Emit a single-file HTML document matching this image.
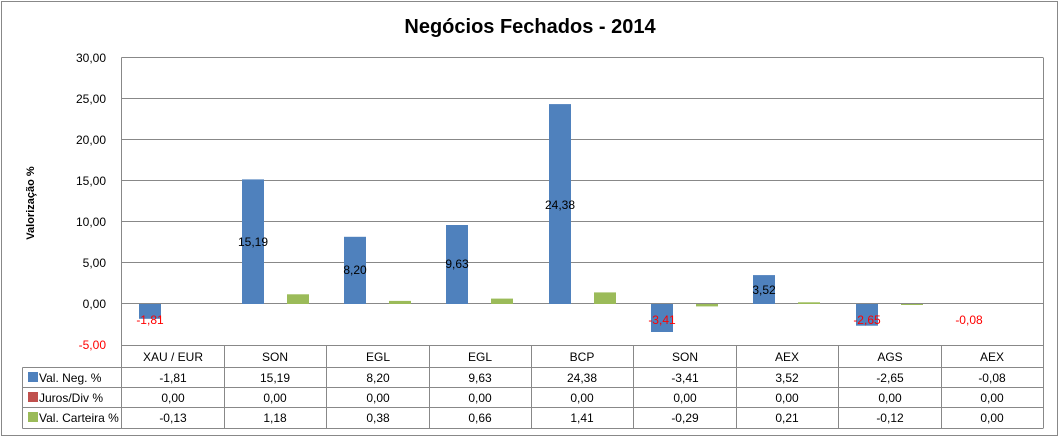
<!DOCTYPE html>
<html><head><meta charset="utf-8"><style>
html,body{margin:0;padding:0;background:#fff}
svg{display:block;font-family:"Liberation Sans",sans-serif}
</style></head><body>
<svg width="1060" height="438" viewBox="0 0 1060 438">
<rect x="1.5" y="1.5" width="1056" height="434" fill="#fff" stroke="#888"/>
<text x="530" y="33" font-size="20" font-weight="bold" text-anchor="middle" fill="#000">Negócios Fechados - 2014</text>
<text transform="translate(34,203) rotate(-90)" font-size="11" font-weight="bold" text-anchor="middle">Valorização %</text>
<g stroke="#888" stroke-width="1" fill="none">
<line x1="121.5" y1="57.5" x2="1043" y2="57.5"/>
<line x1="121.5" y1="98.5" x2="1043" y2="98.5"/>
<line x1="121.5" y1="139.5" x2="1043" y2="139.5"/>
<line x1="121.5" y1="180.5" x2="1043" y2="180.5"/>
<line x1="121.5" y1="221.5" x2="1043" y2="221.5"/>
<line x1="121.5" y1="262.5" x2="1043" y2="262.5"/>
<line x1="121.5" y1="303.5" x2="1043" y2="303.5"/>
<line x1="121.5" y1="57.5" x2="121.5" y2="428"/>
<line x1="1043.5" y1="57.5" x2="1043.5" y2="428"/>
</g>
<g font-size="12" text-anchor="end" fill="#000">
<text x="106" y="62">30,00</text><text x="106" y="103">25,00</text><text x="106" y="144">20,00</text>
<text x="106" y="185">15,00</text><text x="106" y="226">10,00</text><text x="106" y="267">5,00</text>
<text x="106" y="308">0,00</text><text x="106" y="349" fill="#f00">-5,00</text>
</g>
<!-- bars -->
<g>
<rect x="139" y="304" width="22" height="14.8" fill="#4f81bd"/>
<rect x="242" y="179.4" width="22" height="124.6" fill="#4f81bd"/>
<rect x="287" y="294.3" width="22" height="9.7" fill="#9bbb59"/>
<rect x="344" y="236.8" width="22" height="67.2" fill="#4f81bd"/>
<rect x="389" y="300.9" width="22" height="3.1" fill="#9bbb59"/>
<rect x="446" y="225" width="22" height="79" fill="#4f81bd"/>
<rect x="491" y="298.6" width="22" height="5.4" fill="#9bbb59"/>
<rect x="549" y="104.1" width="22" height="199.9" fill="#4f81bd"/>
<rect x="594" y="292.4" width="22" height="11.6" fill="#9bbb59"/>
<rect x="651" y="304" width="22" height="28" fill="#4f81bd"/>
<rect x="696" y="304" width="22" height="2.4" fill="#9bbb59"/>
<rect x="753" y="275.1" width="22" height="28.9" fill="#4f81bd"/>
<rect x="798" y="302.3" width="22" height="1.7" fill="#9bbb59"/>
<rect x="856" y="304" width="22" height="21.7" fill="#4f81bd"/>
<rect x="901" y="304" width="22" height="1" fill="#9bbb59"/>
</g>
<g font-size="12" text-anchor="middle">
<text x="150" y="324" fill="#f00">-1,81</text>
<text x="253" y="246">15,19</text>
<text x="355" y="274">8,20</text>
<text x="457" y="268">9,63</text>
<text x="560" y="209">24,38</text>
<text x="662" y="324" fill="#f00">-3,41</text>
<text x="764" y="294">3,52</text>
<text x="867" y="324" fill="#f00">-2,65</text>
<text x="969" y="324" fill="#f00">-0,08</text>
</g>
<!-- table -->
<g stroke="#888" fill="none">
<line x1="121.5" y1="345.5" x2="1043.5" y2="345.5"/>
<line x1="22.5" y1="367.5" x2="1043.5" y2="367.5"/>
<line x1="22.5" y1="387.5" x2="1043.5" y2="387.5"/>
<line x1="22.5" y1="407.5" x2="1043.5" y2="407.5"/>
<line x1="22.5" y1="428.5" x2="1043.5" y2="428.5"/>
<line x1="22.5" y1="367.5" x2="22.5" y2="428.5"/>
<line x1="224.5" y1="345.5" x2="224.5" y2="428.5"/>
<line x1="326.5" y1="345.5" x2="326.5" y2="428.5"/>
<line x1="429.5" y1="345.5" x2="429.5" y2="428.5"/>
<line x1="531.5" y1="345.5" x2="531.5" y2="428.5"/>
<line x1="633.5" y1="345.5" x2="633.5" y2="428.5"/>
<line x1="736.5" y1="345.5" x2="736.5" y2="428.5"/>
<line x1="838.5" y1="345.5" x2="838.5" y2="428.5"/>
<line x1="941.5" y1="345.5" x2="941.5" y2="428.5"/>
</g>
<rect x="28" y="372" width="10" height="10" fill="#4f81bd"/>
<rect x="28" y="392" width="10" height="10" fill="#c0504d"/>
<rect x="28" y="412" width="10" height="10" fill="#9bbb59"/>
<g font-size="12">
<text x="39" y="382">Val. Neg. %</text>
<text x="39" y="402">Juros/Div %</text>
<text x="39" y="422">Val. Carteira %</text>
</g>
<g font-size="12" text-anchor="middle">
<text x="173" y="361">XAU / EUR</text><text x="275" y="361">SON</text><text x="378" y="361">EGL</text>
<text x="480" y="361">EGL</text><text x="582" y="361">BCP</text><text x="685" y="361">SON</text>
<text x="787" y="361">AEX</text><text x="890" y="361">AGS</text><text x="992" y="361">AEX</text>
<text x="173" y="382">-1,81</text><text x="275" y="382">15,19</text><text x="378" y="382">8,20</text>
<text x="480" y="382">9,63</text><text x="582" y="382">24,38</text><text x="685" y="382">-3,41</text>
<text x="787" y="382">3,52</text><text x="890" y="382">-2,65</text><text x="992" y="382">-0,08</text>
<text x="173" y="402">0,00</text><text x="275" y="402">0,00</text><text x="378" y="402">0,00</text>
<text x="480" y="402">0,00</text><text x="582" y="402">0,00</text><text x="685" y="402">0,00</text>
<text x="787" y="402">0,00</text><text x="890" y="402">0,00</text><text x="992" y="402">0,00</text>
<text x="173" y="422">-0,13</text><text x="275" y="422">1,18</text><text x="378" y="422">0,38</text>
<text x="480" y="422">0,66</text><text x="582" y="422">1,41</text><text x="685" y="422">-0,29</text>
<text x="787" y="422">0,21</text><text x="890" y="422">-0,12</text><text x="992" y="422">0,00</text>
</g>
</svg>
</body></html>
